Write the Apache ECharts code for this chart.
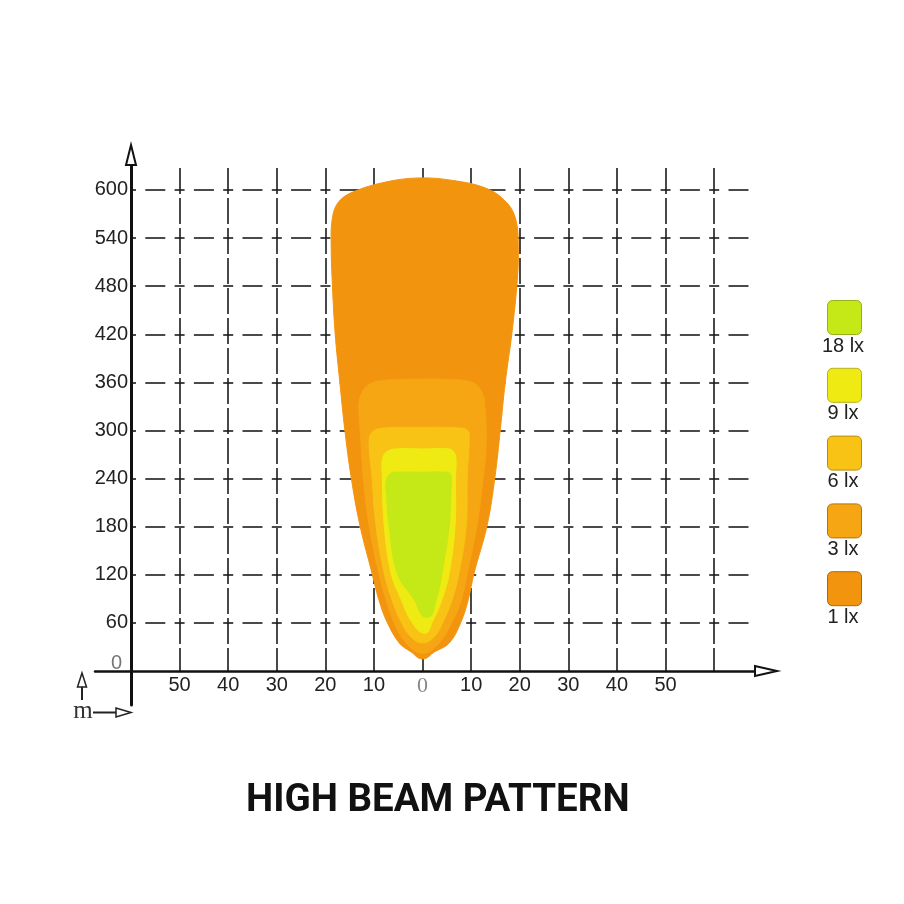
<!DOCTYPE html>
<html><head><meta charset="utf-8">
<script src="https://cdn.jsdelivr.net/npm/echarts@6/dist/echarts.min.js"></script>
<style>html,body{margin:0;padding:0;background:#fff}#c{width:904px;height:904px}</style>
</head><body><div id="c"></div>
<script>
// ---- data (metres: x = lateral, y = distance) ----
const levelNames = ['18 lx', '9 lx', '6 lx', '3 lx', '1 lx'];

const lx1 = [[0,15],[-2.4,24],[-4.8,35],[-7.3,61],[-9.0,89],[-10.4,122],[-12.9,182],[-14.7,242],[-16.0,301],[-17.0,359],[-18.0,422],[-18.6,488],[-18.8,529],[-18.6,563],[-17.4,584],[-14.5,597],[-7.5,610],[-0.7,615],[6.1,612],[13.1,602],[17.2,585],[19.2,563],[19.7,529],[19.5,488],[18.4,422],[17.0,359],[16.0,301],[14.9,242],[13.3,182],[10.6,122],[9.4,89],[7.9,61],[5.5,35],[2.5,24]];
const lx3 = [[0,22],[-3.4,35],[-5.9,61],[-7.5,89],[-9.0,122],[-11.0,182],[-12.2,242],[-12.7,288],[-13.1,326],[-13.0,338],[-12.2,350],[-10.6,359],[-6.9,363],[0,364],[7.5,363],[10.6,359],[12.0,350],[12.7,338],[13.1,288],[12.5,242],[11.2,182],[9.2,122],[8.0,89],[6.1,61],[3.4,35]];
const lx6 = [[0,35],[-2.6,44],[-4.4,61],[-6.3,89],[-7.9,122],[-9.6,182],[-10.4,242],[-11.0,288],[-10.2,299],[-7.9,303],[0,304],[7.9,303],[9.4,299],[9.6,288],[9.2,242],[9.0,182],[7.5,122],[6.1,89],[4.2,61],[2.6,44]];
const lx9 = [[0.5,47],[-2.2,61],[-4.4,89],[-6.5,122],[-7.9,182],[-8.3,242],[-8.3,263],[-7.5,273],[-5.5,277],[0,277],[5.5,277],[6.5,273],[6.9,263],[6.8,242],[6.7,182],[5.5,122],[4.0,89],[2.0,61]];
const lx18 = [[0.9,67],[-1.7,89],[-5.2,122],[-6.9,182],[-7.4,220],[-7.5,236],[-6.7,246],[-4.8,248],[0,248],[4.8,248],[5.7,246],[5.9,236],[5.8,220],[5.5,182],[4.0,122],[2.8,89]];

const contours = [lx1, lx3, lx6, lx9, lx18];          // drawn bottom -> top
const contourNames = ['1 lx', '3 lx', '6 lx', '9 lx', '18 lx'];
const titleText = 'HIGH BEAM PATTERN';

// ---- styles ----
const fillColors = { '1 lx': '#F3940F', '3 lx': '#F6A613', '6 lx': '#F8C315', '9 lx': '#EFEA12', '18 lx': '#C5E817' };
const borderColors = { '1 lx': '#A8690E', '3 lx': '#B07415', '6 lx': '#B48C18', '9 lx': '#B5B020', '18 lx': '#94B11A' };

const chart = echarts.init(document.getElementById('c'), null, { renderer: 'canvas' });

// closed smooth outline through the projected pixel points (rendering only)
function smoothClosedPath(p) {
  const n = p.length, k = 0.38;
  const f = v => v.toFixed(2);
  let d = 'M' + f(p[0][0]) + ' ' + f(p[0][1]);
  for (let i = 0; i < n; i++) {
    const p0 = p[(i - 1 + n) % n], p1 = p[i], p2 = p[(i + 1) % n], p3 = p[(i + 2) % n];
    const seg = Math.hypot(p2[0] - p1[0], p2[1] - p1[1]);
    let t1 = [p2[0] - p0[0], p2[1] - p0[1]], l1 = Math.hypot(t1[0], t1[1]) || 1;
    let t2 = [p3[0] - p1[0], p3[1] - p1[1]], l2 = Math.hypot(t2[0], t2[1]) || 1;
    const c1 = [p1[0] + t1[0] / l1 * seg * k, p1[1] + t1[1] / l1 * seg * k];
    const c2 = [p2[0] - t2[0] / l2 * seg * k, p2[1] - t2[1] / l2 * seg * k];
    d += ' C' + f(c1[0]) + ' ' + f(c1[1]) + ' ' + f(c2[0]) + ' ' + f(c2[1]) + ' ' + f(p2[0]) + ' ' + f(p2[1]);
  }
  return d + ' Z';
}

function makeRender(points, color) {
  return function (params, api) {
    if (params.dataIndex !== 0) return null;
    const pts = points.map(q => api.coord(q));
    return { type: 'path', shape: { pathData: smoothClosedPath(pts) },
             style: { fill: color, stroke: color, lineWidth: 1 } };
  };
}

const series = contours.map((pts, i) => ({
  type: 'custom', name: contourNames[i], xAxisIndex: 0, yAxisIndex: 0,
  data: pts, encode: { x: 0, y: 1 }, clip: false, silent: true, z: 2 + i,
  renderItem: makeRender(pts, fillColors[contourNames[i]])
}));

const legendGraphics = [];
levelNames.forEach((n, i) => {
  const top = 300 + i * 67.8;
  legendGraphics.push({ type: 'rect', left: 827, top: top, shape: { width: 34, height: 34, r: 5 },
    style: { fill: fillColors[n], stroke: borderColors[n], lineWidth: 1 } });
  legendGraphics.push({ type: 'text', x: 843, y: top + 46,
    style: { text: n, fill: '#222', font: '20px "Liberation Sans", Arial, sans-serif', align: 'center', verticalAlign: 'middle' } });
});

// small "m" key at lower-left
const hollowTri = (pts) => ({ type: 'polygon', shape: { points: pts }, style: { fill: '#fff', stroke: '#222', lineWidth: 1.5 } });
const deco = [
  { type: 'line', shape: { x1: 82, y1: 700, x2: 82, y2: 686 }, style: { stroke: '#222', lineWidth: 2 } },
  hollowTri([[82, 673], [86.5, 687], [77.5, 687]]),
  { type: 'line', shape: { x1: 93, y1: 712.5, x2: 116, y2: 712.5 }, style: { stroke: '#222', lineWidth: 2 } },
  hollowTri([[131, 712.5], [116, 708], [116, 717]]),
  { type: 'text', x: 83, y: 711, style: { text: 'm', fill: '#333', font: '25px "Liberation Serif", serif', align: 'center', verticalAlign: 'middle' } }
];

const axisFont = '"Liberation Sans", Arial, sans-serif';

chart.setOption({
  backgroundColor: '#fff',
  animation: false,
  title: {
    text: titleText, left: 241, top: 777,
    textStyle: { fontFamily: 'Roboto', fontWeight: 700, fontSize: 38.5, color: '#111' }
  },
  grid: [
    { left: 131, right: 152, top: 168, bottom: 233 },
    { left: 131, width: 10, top: 165, bottom: 199 },
    { left: 95, right: 149, top: 600, bottom: 233 }
  ],
  xAxis: [
    { type: 'value', gridIndex: 0, min: -60, max: 67.8, interval: 10,
      axisLine: { show: false }, axisTick: { show: false },
      splitLine: { show: true, showMinLine: false, showMaxLine: false,
        lineStyle: { color: '#1c1c1c', width: 1.6, type: [26, 4] } },
      axisLabel: { show: true, showMinLabel: false, showMaxLabel: false, margin: 4,
        color: '#222', fontSize: 20, fontFamily: axisFont,
        formatter: v => (Math.abs(v) >= 60 || Math.round(v) % 10 !== 0) ? '' : (v === 0 ? '{z|0}' : String(Math.abs(v))),
        rich: { z: { fontFamily: '"Liberation Serif", serif', color: '#888', fontSize: 22 } } } },
    { type: 'value', gridIndex: 1, show: false, min: 0, max: 1 },
    { type: 'value', gridIndex: 2, min: 0, max: 1, position: 'bottom',
      axisLine: { show: true, symbol: ['none', 'emptyTriangle'], symbolSize: [10, 22], symbolOffset: [0, 11],
        lineStyle: { color: '#111', width: 2.5 } },
      axisTick: { show: false }, axisLabel: { show: false }, splitLine: { show: false } }
  ],
  yAxis: [
    { type: 'value', gridIndex: 0, min: 0, max: 627.4, interval: 60,
      axisLine: { show: false }, axisTick: { show: false },
      splitLine: { show: true, showMinLine: false, showMaxLine: false,
        lineStyle: { color: '#4a4a4a', width: 2, type: [10, 9.3, 20, 9.3], dashOffset: 5 } },
      axisLabel: { show: true, showMaxLabel: false, margin: 3, color: '#222', fontSize: 20, fontFamily: axisFont,
        formatter: v => (Math.round(v) % 60 !== 0) ? '' : (v === 0 ? '{z|0}' : String(v)),
        rich: { z: { color: '#777', fontSize: 20, fontFamily: axisFont, padding: [0, 6, 16, 0] } } } },
    { type: 'value', gridIndex: 1, min: 0, max: 1, position: 'left',
      axisLine: { show: true, symbol: ['none', 'emptyTriangle'], symbolSize: [10, 20], symbolOffset: [0, 10],
        lineStyle: { color: '#111', width: 3 } },
      axisTick: { show: false }, axisLabel: { show: false }, splitLine: { show: false } },
    { type: 'value', gridIndex: 2, show: false, min: 0, max: 1 }
  ],
  series: series,
  graphic: legendGraphics.concat(deco)
});
</script>
</body></html>
